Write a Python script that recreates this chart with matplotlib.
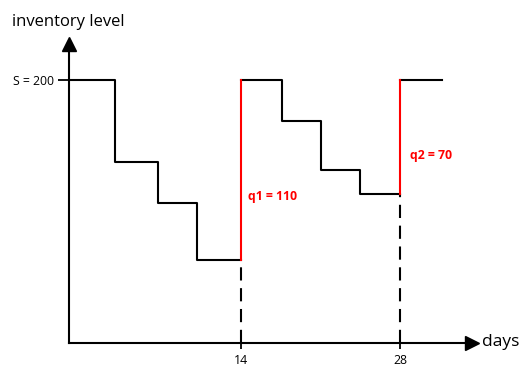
import matplotlib
matplotlib.use("Agg")
import matplotlib.pyplot as plt

plt.rcParams["font.family"] = ["Open Sans", "DejaVu Sans"]
plt.rcParams["lines.scale_dashes"] = False

# Inventory path (days, level) for the periodic-review cycles
start_level = 200
cycle1_days = [3.0, 6.8, 10.2, 14]
cycle1_levels = [200, 150, 125, 90]
cycle2_days = [14, 17.6, 21.0, 24.5, 28]
cycle2_levels = [200, 175, 145, 130]
cycle3_days = [28, 31.6]
order_days = [14, 28]
order_qty = [110, 70]
x_ticks = [14, 28]
y_tick_label = "S = 200"

W, H = 521, 368
fig = plt.figure(figsize=(W / 100, H / 100), dpi=100)
x_left_px, x_right_px = 69, 472
y_bottom_px, y_top_px = 342.7, 44
ax = fig.add_axes([x_left_px / W, 1 - y_bottom_px / H,
                   (x_right_px - x_left_px) / W, (y_bottom_px - y_top_px) / H])

x0 = -1.04
ax.set_xlim(x0, 34.27)
ax.set_ylim(39.4, 222)

lw = 1.5
black = "#000000"
red = "#ff0000"

# first cycle starts at the axis
t1 = [x0] + cycle1_days
v1 = cycle1_levels + [cycle1_levels[-1]]
ax.step(t1, v1, where="post", color=black, lw=lw)

t2 = cycle2_days
v2 = cycle2_levels + [cycle2_levels[-1]]
ax.step(t2, v2, where="post", color=black, lw=lw)

ax.plot(cycle3_days, [start_level, start_level], color=black, lw=lw)

# dashed guides from the reorder level down to the day axis
lows = [cycle1_levels[-1], cycle2_levels[-1]]
for d, low in zip(order_days, lows):
    ax.plot([d, d], [39.4, low], color=black, lw=lw, dashes=(9.5, 5.5),
            solid_capstyle="butt", dash_capstyle="butt")

# order quantities as red jumps
for i, (d, low, q) in enumerate(zip(order_days, lows, order_qty), start=1):
    ax.plot([d, d], [low, low + q], color=red, lw=lw, zorder=3)

ax.text(14.62, 128.5, f"q1 = {order_qty[0]}", color=red, fontsize=8.8,
        fontweight="bold", va="center", ha="left")
ax.text(28.8, 154, f"q2 = {order_qty[1]}", color=red, fontsize=8.8,
        fontweight="bold", va="center", ha="left")

# axes styling
for s in ["top", "right"]:
    ax.spines[s].set_visible(False)
for s in ["left", "bottom"]:
    ax.spines[s].set_linewidth(lw)
ax.set_xticks(x_ticks)
ax.set_xticklabels([str(t) for t in x_ticks])
ax.set_yticks([start_level])
ax.set_yticklabels([y_tick_label])
ax.tick_params(axis="x", direction="inout", length=8, width=1.3, labelsize=8.8, pad=4)
ax.tick_params(axis="y", direction="out", length=8, width=1.3, labelsize=8.8, pad=3)

# arrow heads on the axes
ax.plot(1, 0, ">", color=black, ms=9.5, transform=ax.transAxes, clip_on=False)
ax.plot(0, 1, "^", color=black, ms=9.5, transform=ax.transAxes, clip_on=False)

fig.text(12 / W, 1 - 22 / H, "inventory level", fontsize=12, va="center", ha="left")
fig.text(482 / W, 1 - 342 / H, "days", fontsize=12.5, va="center", ha="left")

fig.savefig("out.png", dpi=100)
